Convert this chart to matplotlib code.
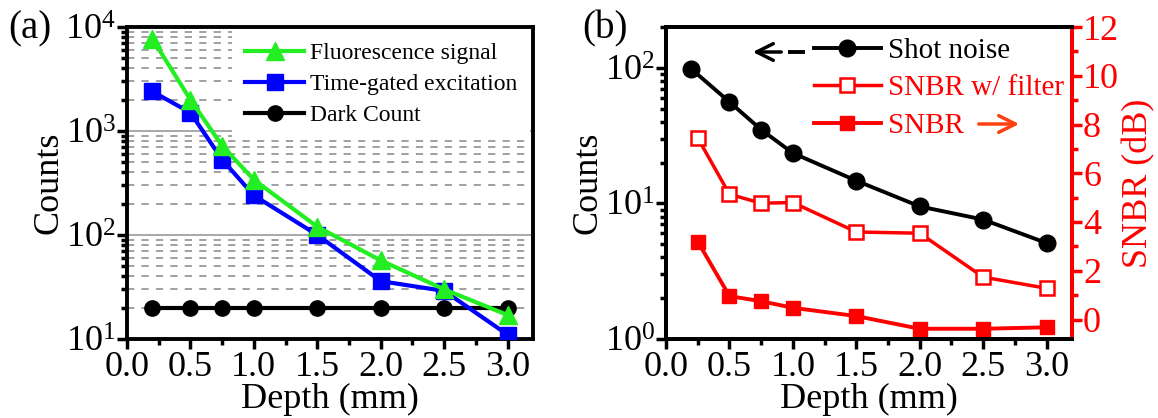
import matplotlib
matplotlib.use('Agg')
import matplotlib.pyplot as plt
from matplotlib.ticker import LogLocator, MultipleLocator, NullFormatter
from matplotlib.lines import Line2D

# ---------------- data ----------------
depth_a = [0.2, 0.5, 0.75, 1.0, 1.5, 2.0, 2.5, 3.0]
fluorescence = [7700, 2000, 720, 340, 120, 57, 30, 17]
time_gated = [2400, 1500, 530, 240, 100, 36, 29, 11]
dark_count = [20, 20, 20, 20, 20, 20, 20, 20]

depth_shot = [0.2, 0.5, 0.75, 1.0, 1.5, 2.0, 2.5, 3.0]
shot_noise = [98, 56, 35, 23.5, 14.7, 9.5, 7.6, 5.1]
depth_snbr = [0.25, 0.5, 0.75, 1.0, 1.5, 2.0, 2.5, 3.0]
snbr_filter = [7.45, 5.14, 4.77, 4.80, 3.59, 3.54, 1.74, 1.28]
snbr = [3.2, 0.96, 0.75, 0.48, 0.14, -0.38, -0.38, -0.32]

x_ticks = [0.0, 0.5, 1.0, 1.5, 2.0, 2.5, 3.0]
x_tick_labels = ['0.0', '0.5', '1.0', '1.5', '2.0', '2.5', '3.0']
snbr_ticks = [0, 2, 4, 6, 8, 10, 12]

# ---------------- style ----------------
plt.rcParams['font.family'] = ['Liberation Serif', 'DejaVu Serif']
plt.rcParams['mathtext.fontset'] = 'stix'

W, H = 1158, 418
fig = plt.figure(figsize=(W / 100, H / 100), dpi=100)

def frac(px_l, px_t, px_r, px_b):
    return [px_l / W, 1 - px_b / H, (px_r - px_l) / W, (px_b - px_t) / H]

TICK = 26
LAB = 26
GREEN = '#22ee22'
BLUE = '#0000ff'
RED = '#ff0000'

def style_axes(ax):
    for s in ax.spines.values():
        s.set_linewidth(2.8)
    ax.tick_params(axis='both', which='major', direction='out', length=7, width=2.5,
                   labelsize=TICK, pad=1)
    ax.tick_params(axis='x', which='major', pad=2)
    ax.tick_params(axis='both', which='minor', direction='out', length=4.5, width=2.5)
    ax.tick_params(top=False, right=False, which='both')
    ax.set_xlim(0, 3.2)
    ax.set_xticks(x_ticks)
    ax.set_xticklabels(x_tick_labels)
    ax.xaxis.set_minor_locator(MultipleLocator(0.25))
    ax.yaxis.set_minor_locator(LogLocator(base=10, subs=range(2, 10)))
    ax.yaxis.set_minor_formatter(NullFormatter())
    ax.set_xlabel('Depth (mm)', fontsize=LAB, labelpad=-1)
    ax.set_ylabel('Counts', fontsize=LAB, labelpad=0)

# ---------------- panel (a) ----------------
axa = fig.add_axes(frac(127, 27, 533, 339))
axa.set_yscale('log')
axa.set_ylim(10, 1e4)
style_axes(axa)
axa.set_yticks([10, 100, 1000, 10000])
axa.yaxis.grid(True, which='major', color='#999999', lw=1.2, ls='-')
axa.yaxis.grid(True, which='minor', color='#999999', lw=1.3, ls=(0, (4, 4)))
axa.set_axisbelow(True)

axa.plot(depth_a, fluorescence, color=GREEN, lw=3, marker='^', ms=13,
         label='Fluorescence signal', zorder=4)
axa.plot(depth_a, time_gated, color=BLUE, lw=3, marker='s', ms=11,
         label='Time-gated excitation', zorder=3)
axa.plot(depth_a, dark_count, color='black', lw=3, marker='o', ms=11,
         label='Dark Count', zorder=2)

lega = axa.legend(loc='upper right', bbox_to_anchor=(1.0, 1.0),
                  fontsize=17, frameon=True, fancybox=False, framealpha=1,
                  facecolor='white', edgecolor='none', handlelength=2.5,
                  handletextpad=0.25, labelspacing=0.4, borderpad=0.55,
                  borderaxespad=0.12)
lega.set_zorder(6)

fig.text(8 / W, 1 - 10 / H, '(a)', fontsize=28, va='top', ha='left')

# ---------------- panel (b) ----------------
axb = fig.add_axes(frac(666, 27, 1072, 339))
axb.set_yscale('log')
axb.set_ylim(1, 200)
style_axes(axb)
axb.set_yticks([1, 10, 100])

l_shot, = axb.plot(depth_shot, shot_noise, color='black', lw=2.8, marker='o', ms=12,
                   label='Shot noise', zorder=3)

axr = axb.twinx()
axr.set_ylim(-0.8, 12)
axr.set_yticks(snbr_ticks)
axr.yaxis.set_minor_locator(MultipleLocator(1))
axr.tick_params(axis='y', which='major', direction='out', length=7, width=2.5,
                labelsize=TICK, colors=RED, pad=1)
axr.tick_params(axis='y', which='minor', direction='out', length=4.5, width=2.5,
                colors=RED)
for s in axr.spines.values():
    s.set_linewidth(2.8)
axr.spines['right'].set_color(RED)
axr.set_ylabel('SNBR (dB)', fontsize=LAB, color=RED, labelpad=2)

l_filt, = axr.plot(depth_snbr, snbr_filter, color=RED, lw=2.5, marker='s', ms=10,
                   mfc='white', mec=RED, mew=1.8, label='SNBR w/ filter')
l_snbr, = axr.plot(depth_snbr, snbr, color=RED, lw=2.8, marker='s', ms=10,
                   label='SNBR')

legb = axr.legend(handles=[l_shot, l_filt, l_snbr], loc='upper left',
                  bbox_to_anchor=((805 - 666) / 406, 0.995), fontsize=21,
                  frameon=False, handlelength=2.3, handletextpad=0.25,
                  labelspacing=0.38, borderpad=0.2, borderaxespad=0.1)
for t, c in zip(legb.get_texts(), ['black', RED, RED]):
    t.set_color(c)

# arrows next to the legend
fig.add_artist(Line2D([790 / W, 803 / W], [1 - 52 / H, 1 - 52 / H], color='black',
                      lw=2.8, transform=fig.transFigure))
axb.annotate('', xy=(750 / W, 1 - 52 / H), xytext=(784 / W, 1 - 52 / H),
             xycoords='figure fraction', textcoords='figure fraction',
             arrowprops=dict(arrowstyle='->', lw=2.5, color='black', mutation_scale=30))
axb.annotate('', xy=(1022 / W, 1 - 124 / H), xytext=(976 / W, 1 - 124 / H),
             xycoords='figure fraction', textcoords='figure fraction',
             arrowprops=dict(arrowstyle='->', lw=2.5, color='#ff4010', mutation_scale=30))

fig.text(582 / W, 1 - 10 / H, '(b)', fontsize=28, va='top', ha='left')

fig.savefig('out.png', dpi=100)
